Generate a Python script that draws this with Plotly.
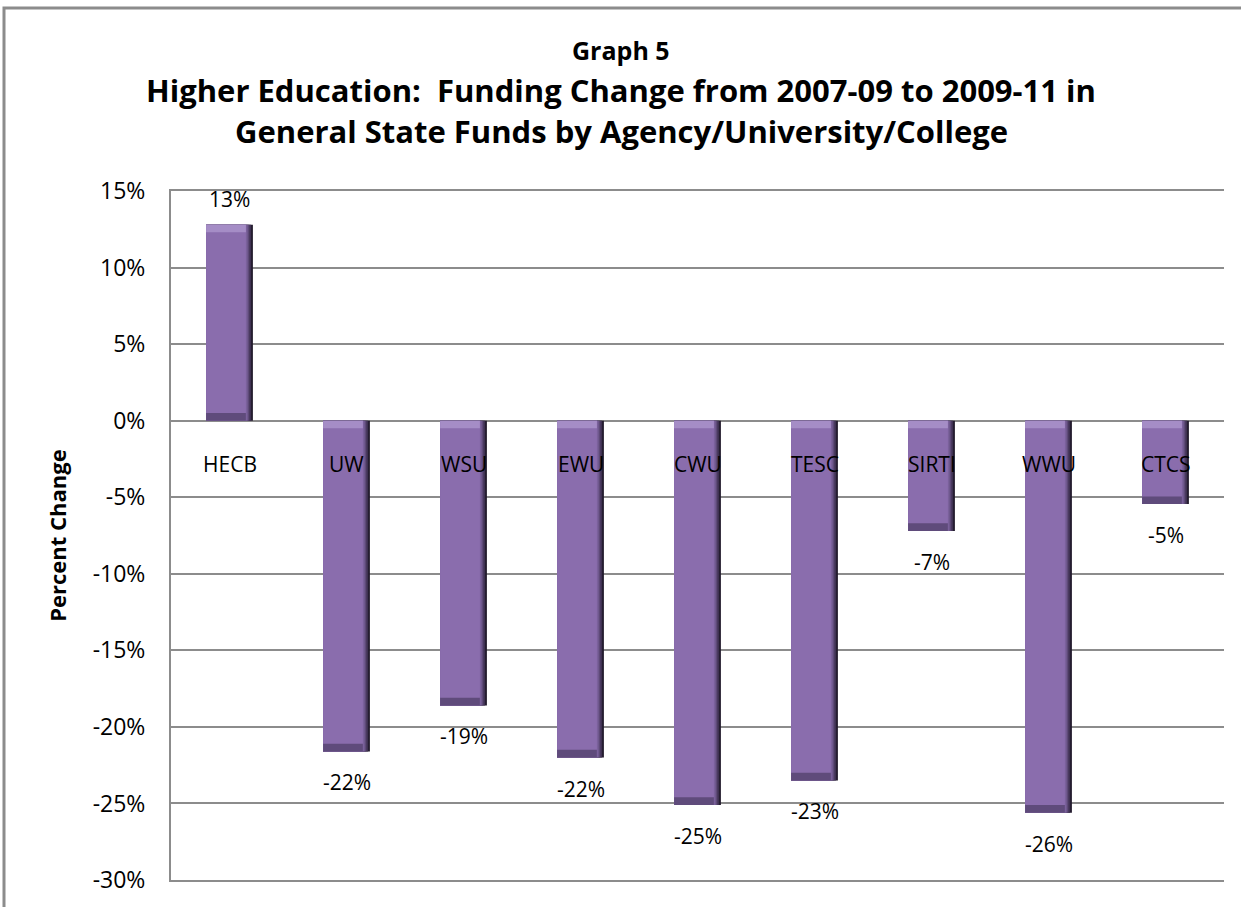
import plotly.graph_objects as go

categories = ["HECB", "UW", "WSU", "EWU", "CWU", "TESC", "SIRTI", "WWU", "CTCS"]
values = [12.8, -21.6, -18.6, -22.0, -25.1, -23.5, -7.2, -25.6, -5.45]
labels = ["13%", "-22%", "-19%", "-22%", "-25%", "-23%", "-7%", "-26%", "-5%"]
tick_vals = [15, 10, 5, 0, -5, -10, -15, -20, -25, -30]
tick_text = ["15%", "10%", "5%", "0%", "-5%", "-10%", "-15%", "-20%", "-25%", "-30%"]

FONT = "Open Sans"
fig = go.Figure()
# layered bars to imitate the bevelled look
layers = [(0.40, "#221a2c"), (0.385, "#3f3152"), (0.37, "#5e4a78"), (0.355, "#7a619b"), (0.34, "#8a6dad")]
for i, (w, col) in enumerate(layers):
    fig.add_trace(go.Bar(x=categories, y=values, width=w, offset=-0.20,
                         marker=dict(color=col, line=dict(width=0)),
                         hoverinfo="skip" if i < len(layers) - 1 else None, showlegend=False))

# bevel end bands (light at upper end, dark at lower end)
band = 0.5
tops = [max(v, 0) for v in values]
bottoms = [min(v, 0) for v in values]
fig.add_trace(go.Bar(x=categories, y=[band] * len(values), base=[t - band for t in tops],
                     width=0.34, offset=-0.20, marker=dict(color="#a58dc6", line=dict(width=0)),
                     hoverinfo="skip", showlegend=False))
fig.add_trace(go.Bar(x=categories, y=[band] * len(values), base=bottoms,
                     width=0.34, offset=-0.20, marker=dict(color="#5f4b7b", line=dict(width=0)),
                     hoverinfo="skip", showlegend=False))

annotations = []
for c, v, t in zip(categories, values, labels):
    annotations.append(dict(x=c, y=v, text=t, showarrow=False, xref="x", yref="y",
                            yshift=26 if v > 0 else -31,
                            font=dict(family=FONT, size=21, color="#000000")))
    annotations.append(dict(x=c, y=0, text=c, showarrow=False, xref="x", yref="y",
                            yshift=-43, font=dict(family=FONT, size=21, color="#000000")))

# titles
TX = (621 - 171) / 1053
annotations.append(dict(x=TX, y=(884 - 49) / 693, xref="paper", yref="paper", showarrow=False,
                        xanchor="center", yanchor="middle", text="<b>Graph 5</b>",
                        font=dict(family=FONT, size=25, color="#000")))
annotations.append(dict(x=TX, y=(884 - 89) / 693, xref="paper", yref="paper", showarrow=False,
                        xanchor="center", yanchor="middle",
                        text="<b>Higher Education:  Funding Change from 2007-09 to 2009-11 in</b>",
                        font=dict(family=FONT, size=31, color="#000")))
annotations.append(dict(x=TX, y=(884 - 131) / 693, xref="paper", yref="paper", showarrow=False,
                        xanchor="center", yanchor="middle",
                        text="<b>General State Funds by Agency/University/College</b>",
                        font=dict(family=FONT, size=31, color="#000")))

fig.update_layout(
    width=1241, height=907,
    margin=dict(l=171, r=17, t=191, b=23),
    paper_bgcolor="white", plot_bgcolor="white",
    barmode="overlay", bargap=0.6,
    annotations=annotations,
    shapes=[dict(type="rect", xref="paper", yref="paper",
                 x0=(4 - 171) / 1053, x1=(1260 - 171) / 1053,
                 y0=(884 - 930) / 693, y1=(884 - 7) / 693,
                 line=dict(color="#8c8c8c", width=3), fillcolor="rgba(0,0,0,0)", layer="below")],
    font=dict(family=FONT, size=21, color="#000"),
)
fig.update_xaxes(showticklabels=False, showgrid=False, zeroline=False,
                 showline=True, mirror=True, linecolor="#8c8c8c", linewidth=2,
                 range=[-0.5, 8.5])
fig.update_yaxes(range=[-30, 15], tickvals=tick_vals, ticktext=tick_text,
                 showgrid=True, gridcolor="#8c8c8c", gridwidth=2,
                 zeroline=True, zerolinecolor="#8c8c8c", zerolinewidth=2,
                 showline=True, linecolor="#8c8c8c", linewidth=2,
                 ticks="", ticklabelstandoff=19,
                 tickfont=dict(family=FONT, size=23, color="#000"),
                 title=dict(text="<b>Percent Change</b>", standoff=20,
                            font=dict(family=FONT, size=22, color="#000")))

fig.write_html("out.html", config={"displayModeBar": False},
               post_script="document.body.style.margin='0';")
